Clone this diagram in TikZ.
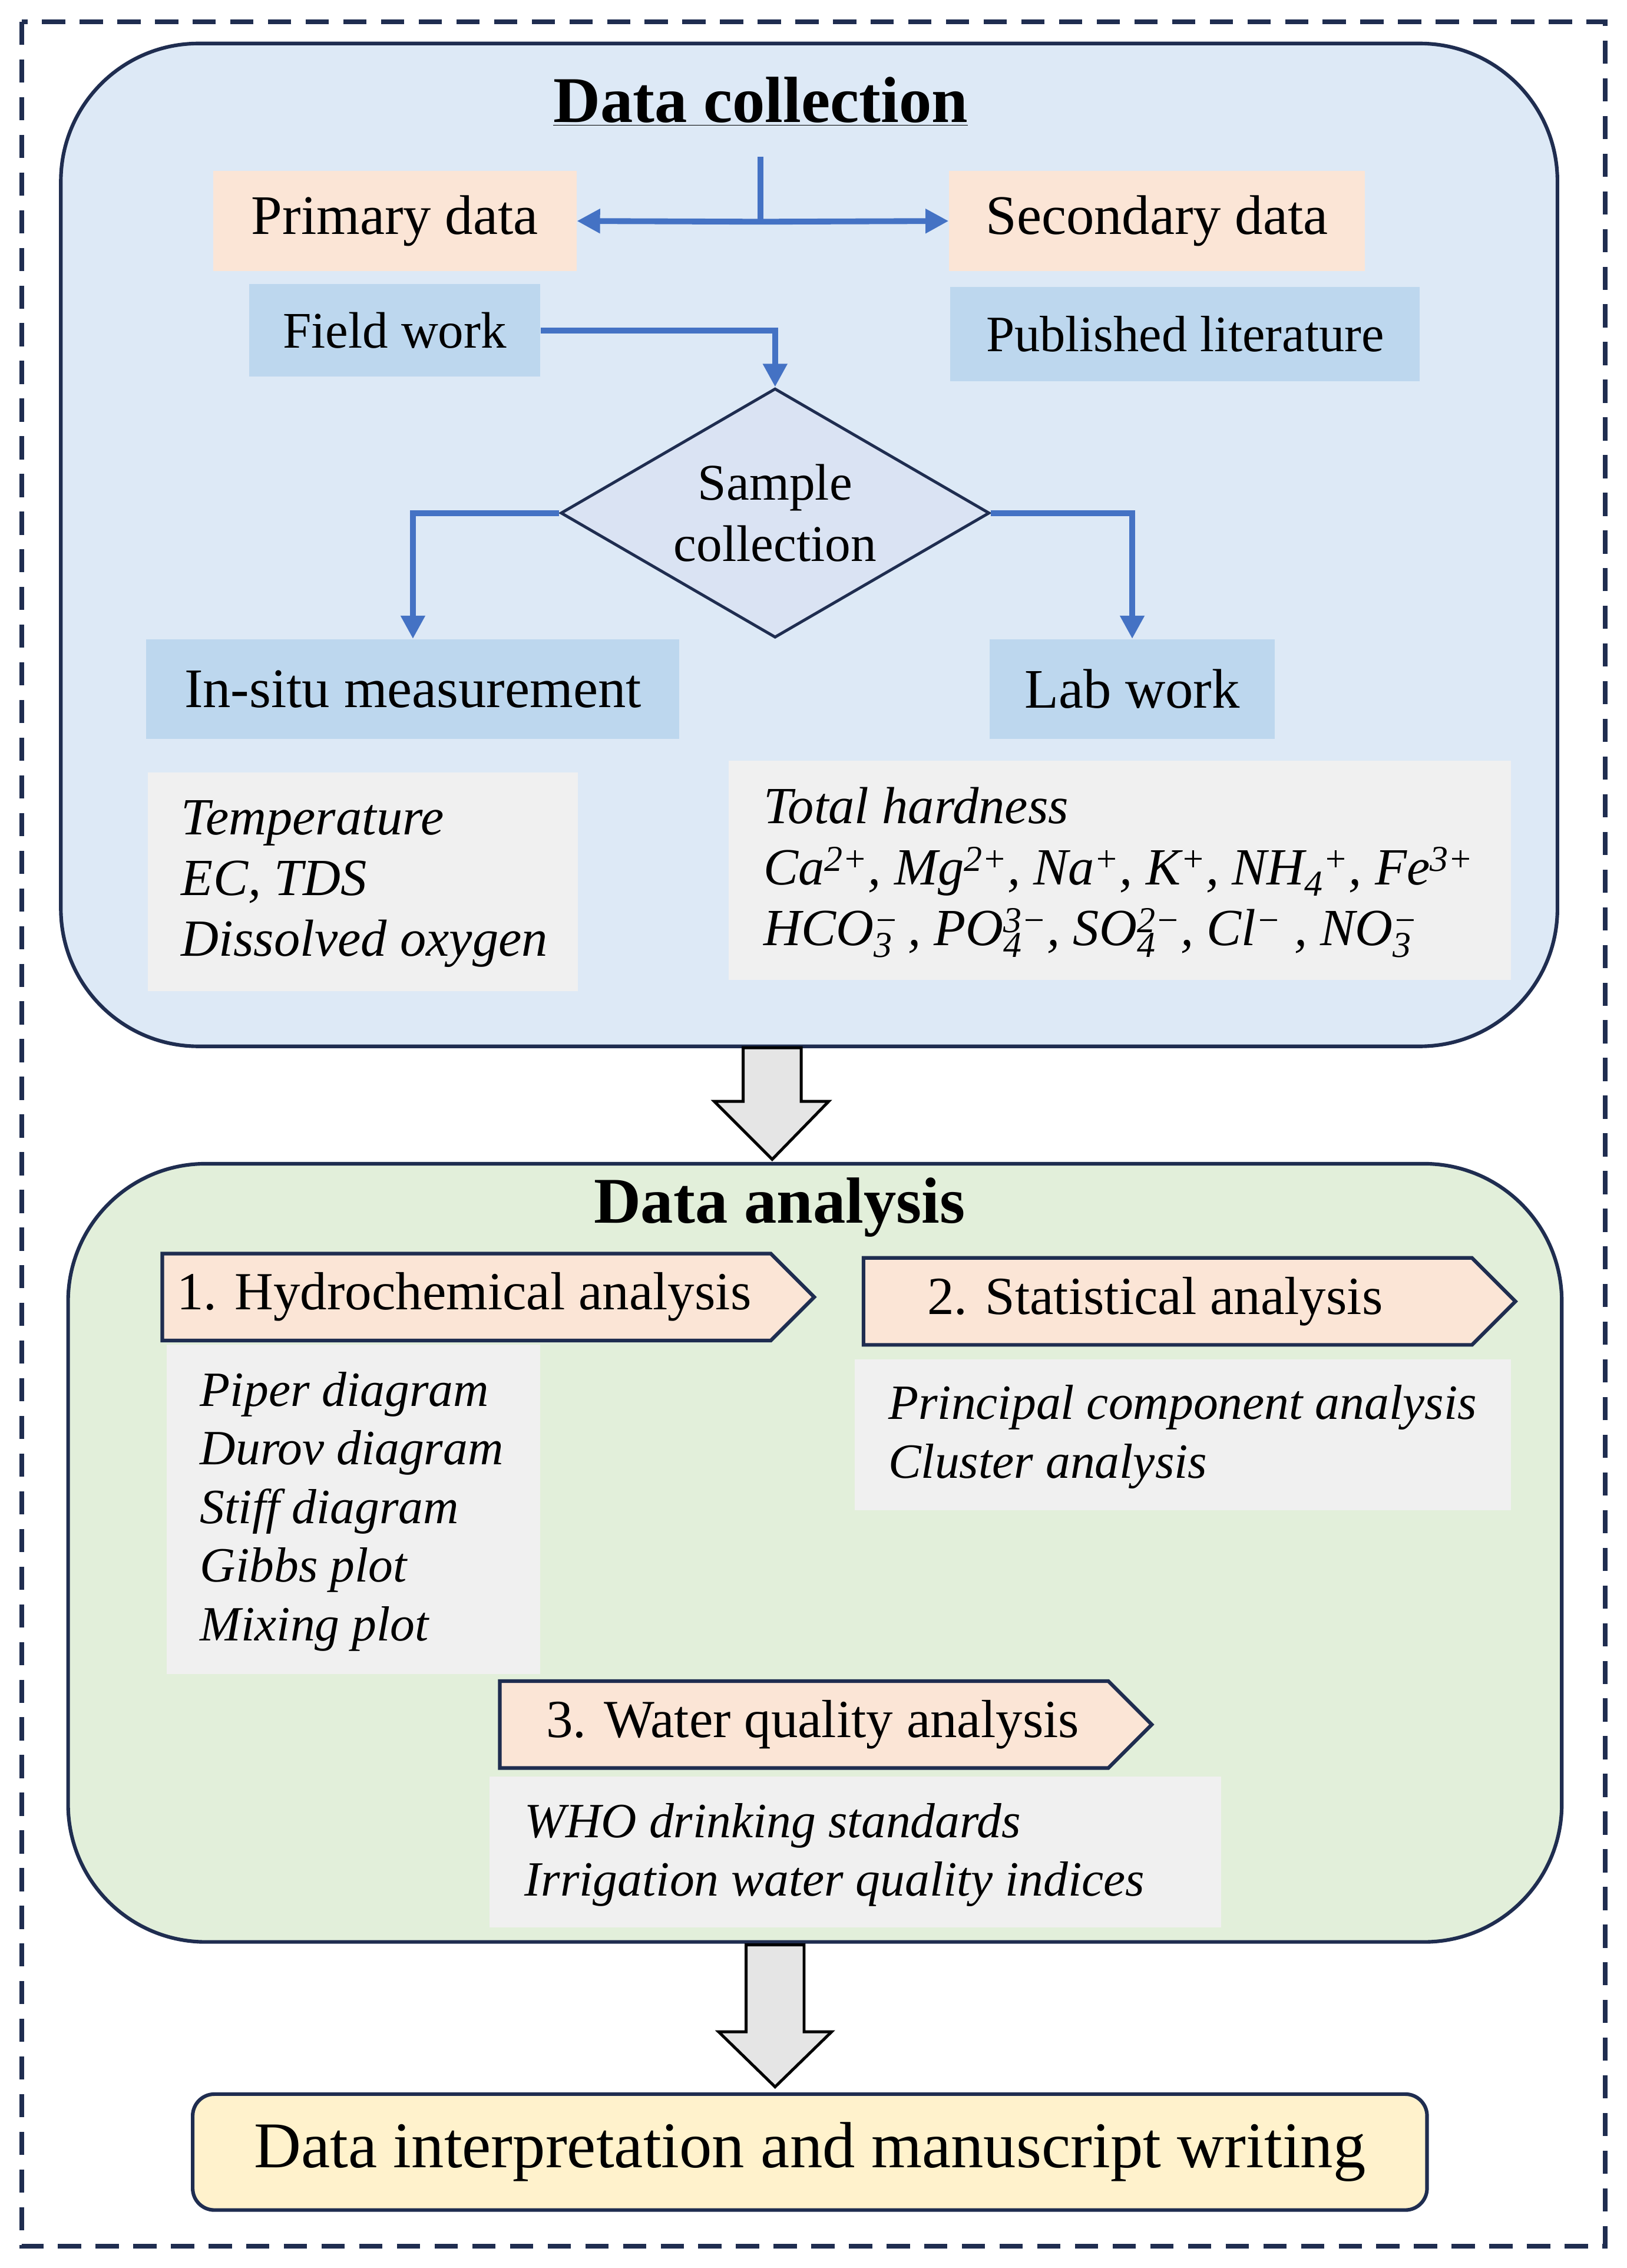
\documentclass[tikz,border=0pt]{standalone}
\usepackage{fontspec}
\setmainfont{Liberation Serif}
\usetikzlibrary{shapes.geometric,shapes.symbols,arrows.meta}
\definecolor{navy}{HTML}{1F2D50}
\definecolor{ablue}{HTML}{4472C4}
\definecolor{pblue}{HTML}{DDE9F6}
\definecolor{peach}{HTML}{FBE5D6}
\definecolor{lblue}{HTML}{BDD7EE}
\definecolor{dia}{HTML}{DAE3F3}
\definecolor{lgray}{HTML}{F0F0F0}
\definecolor{pgreen}{HTML}{E2EFDA}
\definecolor{pyel}{HTML}{FFF2CC}
\newcommand{\sbsp}[2]{\makebox[0pt][l]{\textsubscript{#1}}\textsuperscript{#2}}
\tikzset{
 fs/.style={font=\fontsize{#1pt}{1.2\dimexpr#1pt\relax}\selectfont},
 panel/.style={draw=navy,line width=2.5pt,rounded corners=95pt},
 box/.style={inner sep=0pt,fs=38.5},
 pk/.style={box,fill=peach},
 bl/.style={box,fill=lblue},
 gr/.style={inner sep=0pt,fill=lgray},
 itl/.style={align=left,anchor=west,inner sep=0pt,font=\fontsize{36pt}{42pt}\selectfont\itshape},
 itm/.style={align=left,anchor=west,inner sep=0pt,font=\fontsize{34pt}{40.5pt}\selectfont\itshape},
 flow/.style={ablue,line width=4pt,-{Triangle[length=16pt,width=16pt]}},
 chev/.style={signal,signal to=east,signal pointer angle=90,draw=navy,line width=2.5pt,fill=peach,inner sep=0pt,fs=37,minimum width=448pt,minimum height=60pt},
 barrow/.style={draw=black,line width=2pt,fill=gray!20,line join=miter}
}
\begin{document}
\begin{tikzpicture}[x=1pt,y=-1pt]
\useasboundingbox (0,0) rectangle (1123,1565);
\draw[navy,line width=3pt,dash pattern=on 16pt off 10pt] (15,15) rectangle (1108,1550);
% data collection panel
\node[panel,fill=pblue,minimum width=1033pt,minimum height=692pt] (p1) at (558.5,376) {};
\node[fs=45] (t1) at (525,70) {\bfseries\underline{Data collection}};
\node[pk,minimum width=251pt,minimum height=69pt] (prim) at (272.5,152.5) {Primary data};
\node[pk,minimum width=287pt,minimum height=69pt] (sec) at (798.5,152.5) {Secondary data};
\node[bl,minimum width=201pt,minimum height=64pt,fs=35.4] (field) at (272.5,228) {Field work};
\node[bl,minimum width=324pt,minimum height=65pt,fs=35.2] (pub) at (818,230.5) {Published literature};
\coordinate (top) at (525,108);
\coordinate (split) at (525,153);
\draw[ablue,line width=4pt] (top) -- (split);
\draw[flow] (split) -- (prim.east);
\draw[flow] (split) -- (sec.west);
\node[diamond,aspect=1.72,draw=navy,line width=2pt,fill=dia,minimum width=296pt,minimum height=172pt,inner sep=0pt,align=center,font=\fontsize{35.5pt}{42pt}\selectfont] (samp) at (535,354) {Sample\\collection};
\draw[flow] (field.east) -| (samp.north);
\node[bl,minimum width=368pt,minimum height=69pt] (insitu) at (285,475.5) {In-situ measurement};
\node[bl,minimum width=197pt,minimum height=69pt] (lab) at (781.5,475.5) {Lab work};
\draw[flow] (samp.west) -| (insitu.north);
\draw[flow] (samp.east) -| (lab.north);
\node[gr,minimum width=297pt,minimum height=151pt] (g1) at (250.5,608.5) {};
\node[itl] (g1t) at (125,610) {Temperature\\EC, TDS\\Dissolved oxygen};
\node[gr,minimum width=540pt,minimum height=151pt] (g2) at (773,600.5) {};
\node[itl] (g2t) at (527,602) {Total hardness\\Ca\textsuperscript{2+}, Mg\textsuperscript{2+}, Na\textsuperscript{+}, K\textsuperscript{+}, NH\textsubscript{4}\textsuperscript{+}, Fe\textsuperscript{3+}\\HCO\sbsp{3}{−}\,, PO\sbsp{4}{3−}, SO\sbsp{4}{2−}, Cl\textsuperscript{−} , NO\sbsp{3}{−}};
% block arrow 1
\draw[barrow] (513,723) -- (553,723) -- (553,760) -- (572,760) -- (533,800) -- (493,760) -- (513,760) -- cycle;
% data analysis panel
\node[panel,fill=pgreen,minimum width=1031pt,minimum height=537pt] (p2) at (562.5,1071.5) {};
\node[fs=45] (t2) at (538,833) {\bfseries Data analysis};
\node[gr,minimum width=258pt,minimum height=227pt] (l1) at (244,1041.5) {};
\node[itm] (l1t) at (138,1043) {Piper diagram\\Durov diagram\\Stiff diagram\\Gibbs plot\\Mixing plot};
\node[gr,minimum width=453pt,minimum height=104pt] (l2) at (816.5,990) {};
\node[itm] (l2t) at (613,991.5) {Principal component analysis\\Cluster analysis};
\node[gr,minimum width=505pt,minimum height=104pt] (l3) at (590.5,1278) {};
\node[itm] (l3t) at (362,1280) {WHO drinking standards\\Irrigation water quality indices};
\node[chev] (c1) at (322,895) {\makebox[420pt][l]{\hspace*{10pt}1. Hydrochemical analysis}};
\node[chev] (c2) at (806,898) {\makebox[420pt][l]{\hspace*{44pt}2. Statistical analysis}};
\node[chev] (c3) at (555,1190) {\makebox[420pt][l]{\hspace*{32pt}3. Water quality analysis}};
% block arrow 2
\draw[barrow] (515,1342) -- (555,1342) -- (555,1402) -- (574,1402) -- (535,1440) -- (496,1402) -- (515,1402) -- cycle;
\node[draw=navy,line width=2.5pt,rounded corners=15pt,fill=pyel,minimum width=852pt,minimum height=80pt,fs=45] (fin) at (559,1485) {Data interpretation and manuscript writing};
\end{tikzpicture}
\end{document}
